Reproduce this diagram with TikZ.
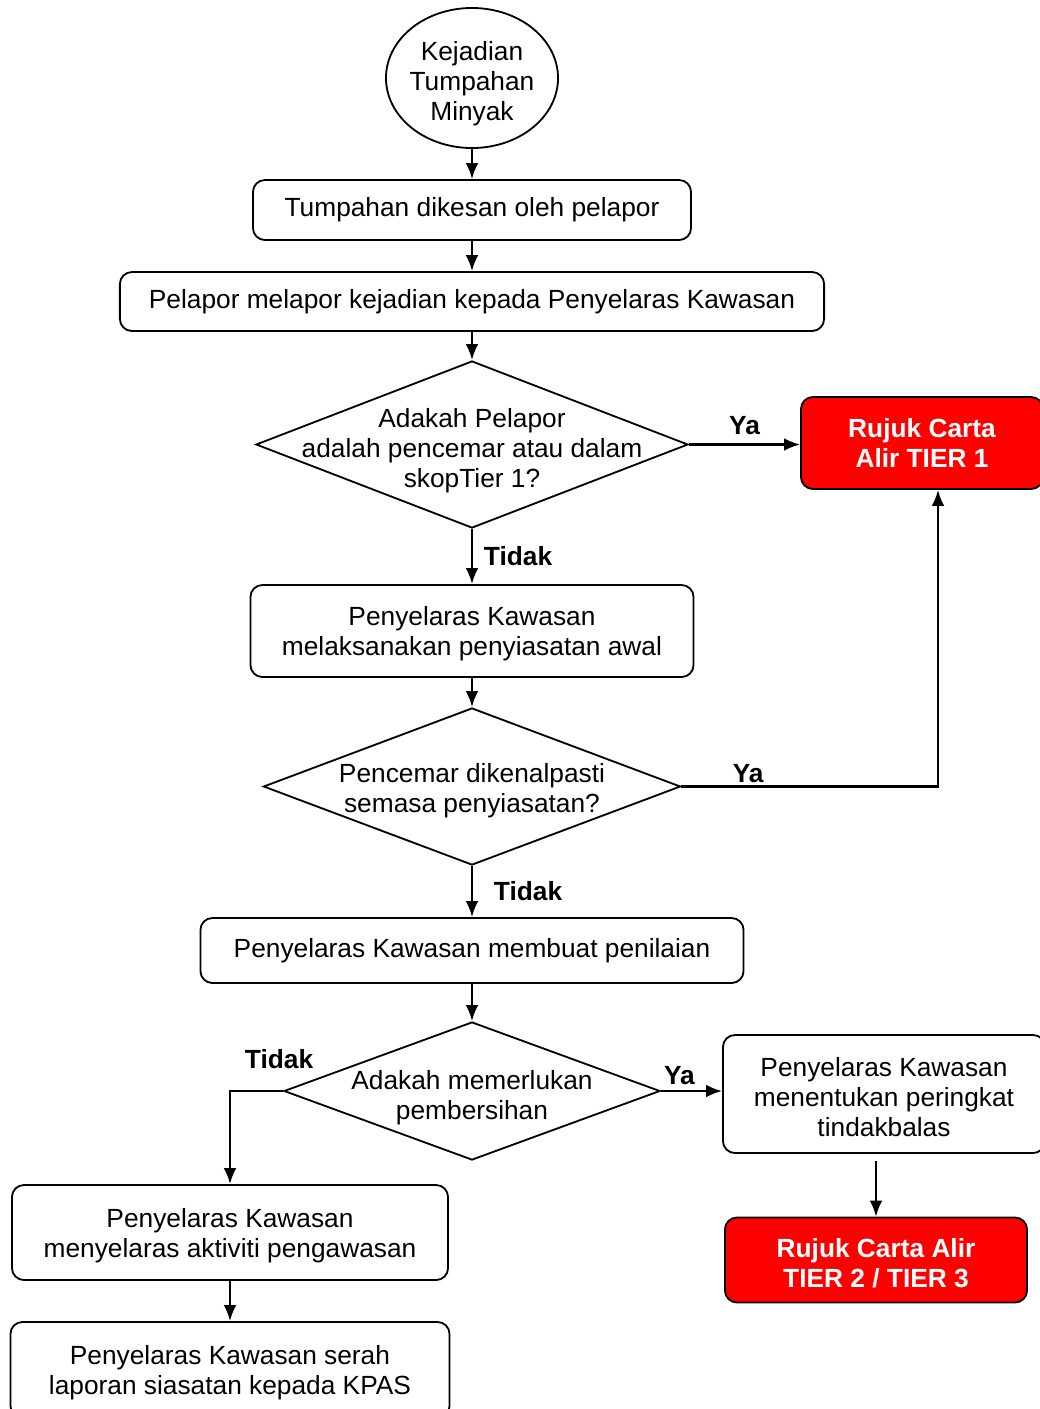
\documentclass[tikz,border=0pt]{standalone}
\usepackage{fontspec}
\setmainfont{Liberation Sans}
\usetikzlibrary{positioning,shapes.geometric,arrows.meta}
\newcommand{\lift}{\rule{0pt}{18pt}}

\begin{document}
\begin{tikzpicture}[x=0.025cm,y=-0.025cm,
  every node/.style={font=\fontsize{18.7}{21.3}\selectfont,align=center,inner sep=0pt},
  box/.style={draw,rounded corners=0.3cm,line width=1.3pt},
  redbox/.style={box,fill=red,text=white,font=\fontsize{18.7}{21.3}\selectfont\bfseries},
  dia/.style={draw,diamond,line width=1.3pt},
  oval/.style={draw,ellipse,line width=1.3pt},
  lbl/.style={font=\fontsize{18.7}{21.3}\selectfont\bfseries,inner sep=2pt},
  arr/.style={-{Latex[length=0.4cm,width=0.32cm]},line width=1.6pt}]
\useasboundingbox (0,0) rectangle (1040,1409);
\node[oval,minimum width=4.3cm,minimum height=3.5cm] (start) at (472,78) {};
\node (starttxt) at (472,84) {Kejadian\\Tumpahan\\Minyak};
\node[box,minimum width=10.95cm,minimum height=1.5cm] (detect) at (472,210) {Tumpahan dikesan oleh pelapor};
\node[box,minimum width=17.6cm,minimum height=1.475cm] (report) at (472,301.5) {Pelapor melapor kejadian kepada Penyelaras Kawasan};
\node[dia,minimum width=10.8cm,minimum height=4.175cm] (q1) at (472,444.5) {};
\node (q1txt) at (472,451) {Adakah Pelapor\\adalah pencemar atau dalam\\skopTier 1?};
\node[redbox,minimum width=6.05cm,minimum height=2.3cm] (tier1) at (922,443) {Rujuk Carta\\Alir TIER 1};
\node[box,minimum width=11.075cm,minimum height=2.3cm] (awal) at (472,631) {\lift Penyelaras Kawasan\\melaksanakan penyiasatan awal};
\node[dia,minimum width=10.425cm,minimum height=3.925cm] (q2) at (472,786.5) {};
\node (q2txt) at (472,791) {Pencemar dikenalpasti\\semasa penyiasatan?};
\node[box,minimum width=13.575cm,minimum height=1.625cm] (nilai) at (472,950.5) {Penyelaras Kawasan membuat penilaian};
\node[dia,minimum width=9.4cm,minimum height=3.45cm] (q3) at (472,1091) {};
\node (q3txt) at (472,1098) {Adakah memerlukan\\pembersihan};
\node[box,minimum width=8.05cm,minimum height=2.95cm] (tentu) at (884,1094) {\lift Penyelaras Kawasan\\menentukan peringkat\\tindakbalas};
\node[redbox,minimum width=7.55cm,minimum height=2.125cm] (tier23) at (876,1260) {\lift Rujuk Carta Alir\\TIER 2 / TIER 3};
\node[box,minimum width=10.9cm,minimum height=2.375cm] (awas) at (230,1232.5) {\lift Penyelaras Kawasan\\menyelaras aktiviti pengawasan};
\node[box,minimum width=10.975cm,minimum height=2.4cm] (serah) at (230,1370) {\lift Penyelaras Kawasan serah\\laporan siasatan kepada KPAS};
\draw[arr] (start) -- (detect);
\draw[arr] (detect) -- (report);
\draw[arr] (report) -- (q1);
\draw[arr] (q1.east) -- node[lbl,above,yshift=0.14cm] (ya1) {Ya} (q1.east -| tier1.west);
\draw[arr] (q1) -- node[lbl,right,xshift=0.2cm] (tidak1) {Tidak} (awal);
\draw[arr] (awal) -- (q2);
\draw[arr] (q2.east) -| node[lbl,pos=0.13,above] (ya2) {Ya} ([xshift=0.4cm]tier1.south);
\draw[arr] (q2) -- node[lbl,right,xshift=0.45cm] (tidak2) {Tidak} (nilai);
\draw[arr] (nilai) -- (q3);
\draw[arr] (q3.east) -- node[lbl,above,xshift=-0.3cm,yshift=0.05cm] (ya3) {Ya} (q3.east -| tentu.west);
\draw[arr] (q3.west) -| node[lbl,pos=0,anchor=south,xshift=-0.1cm,yshift=0.45cm] (tidak3) {Tidak} (awas);
\draw[arr,shorten <=0.175cm] (tentu.south -| tier23.north) -- (tier23);
\draw[arr] (awas) -- (serah);
\end{tikzpicture}
\end{document}
